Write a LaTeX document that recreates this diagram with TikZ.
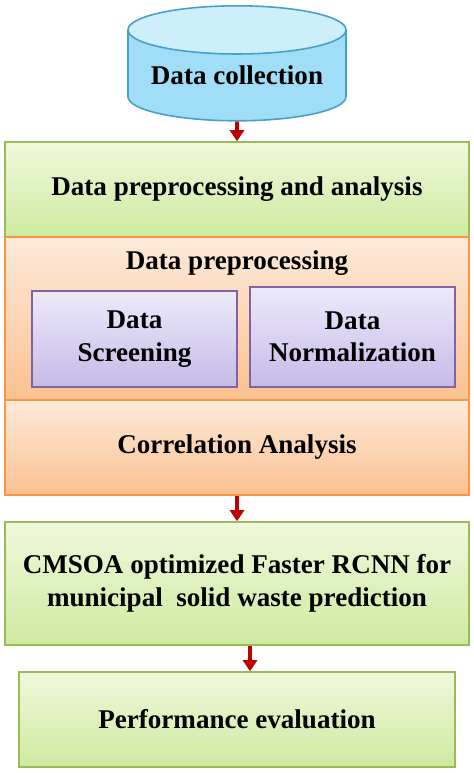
\documentclass[tikz,border=0pt]{standalone}
\usepackage{fontspec}
\setmainfont{Liberation Serif}
\usetikzlibrary{shapes.geometric, arrows.meta}
\definecolor{greentop}{RGB}{240,248,220}
\definecolor{greenbot}{RGB}{205,234,160}
\definecolor{greenline}{RGB}{155,187,89}
\definecolor{orangetop}{RGB}{253,234,218}
\definecolor{orangebot}{RGB}{250,193,144}
\definecolor{orangeline}{RGB}{247,150,70}
\definecolor{purpletop}{RGB}{237,234,250}
\definecolor{purplebot}{RGB}{198,186,232}
\definecolor{purpleline}{RGB}{128,100,162}
\definecolor{cylbody}{RGB}{160,221,246}
\definecolor{cylend}{RGB}{205,239,251}
\definecolor{cylline}{RGB}{70,160,200}
\definecolor{arrowred}{RGB}{192,0,0}
\tikzstyle{database} = [cylinder, shape border rotate=90, aspect=0.28, minimum width=4.36cm, minimum height=2.3cm, inner sep=0pt, draw=cylline, line width=0.9pt, cylinder uses custom fill, cylinder body fill=cylbody, cylinder end fill=cylend, font=\bfseries\fontsize{15.4}{18.5}\selectfont]
\tikzstyle{stage} = [rectangle, minimum width=9.28cm, minimum height=1.9cm, text centered, align=center, draw=greenline, line width=0.9pt, top color=greentop, bottom color=greenbot, font=\bfseries\fontsize{15.4}{18.5}\selectfont]
\tikzstyle{prep} = [rectangle, minimum width=9.28cm, minimum height=1.9cm, text centered, draw=orangeline, line width=0.9pt, top color=orangetop, bottom color=orangebot, font=\bfseries\fontsize{15.4}{18.5}\selectfont]
\tikzstyle{subtask} = [rectangle, minimum width=4.1cm, minimum height=1.92cm, text centered, align=center, draw=purpleline, line width=0.9pt, top color=purpletop, bottom color=purplebot, font=\bfseries\fontsize{15.4}{18.5}\selectfont]
\tikzstyle{arrow} = [line width=2.2pt, -{Triangle[width=0.28cm,length=0.22cm]}, draw=arrowred, fill=arrowred]

\begin{document}
\begin{tikzpicture}
    \useasboundingbox (0,0) rectangle (9.48,-15.46);
    \node [database, anchor=north] at (4.74,-0.1) (collect) {Data collection};
    \node [stage] at (4.74,-3.79) (analysis) {Data preprocessing and analysis};
    \node [prep, minimum height=3.26cm] at (4.74,-6.37) (preproc) {};
    \node [font=\bfseries\fontsize{15.4}{18.5}\selectfont] at (4.74,-5.26) (preptitle) {Data preprocessing};
    \node [subtask] at (2.69,-6.78) (screen) {Data\\Screening};
    \node [subtask, minimum height=2cm] at (7.05,-6.74) (norm) {Data\\Normalization};
    \node [prep] at (4.74,-8.95) (corr) {Correlation Analysis};
    \node [stage, minimum height=2.46cm] at (4.74,-11.67) (cmsoa) {CMSOA optimized Faster RCNN for\\municipal\ \ solid waste prediction};
    \node [stage, minimum width=8.72cm] at (4.74,-14.39) (perf) {Performance evaluation};

    \draw [arrow] (collect) -- (analysis);
    \draw [arrow] (corr) -- (cmsoa);
    \draw [arrow] ([xshift=0.26cm]cmsoa.south) -- ([xshift=0.26cm]perf.north);
\end{tikzpicture}
\end{document}
